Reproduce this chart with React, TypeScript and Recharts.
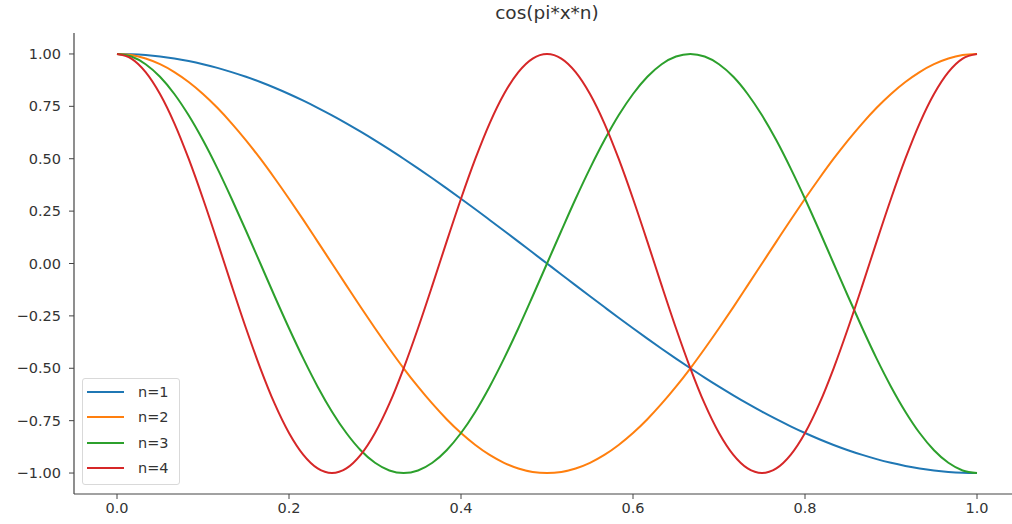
import React from "react";
import { LineChart, Line, XAxis, YAxis } from "recharts";

// Sample positions along x (1/60 steps from 0 to 1)
const xs = [
  0, 0.0167, 0.0333, 0.05, 0.0667, 0.0833, 0.1, 0.1167, 0.1333, 0.15, 0.1667, 0.1833,
  0.2, 0.2167, 0.2333, 0.25, 0.2667, 0.2833, 0.3, 0.3167, 0.3333, 0.35, 0.3667, 0.3833,
  0.4, 0.4167, 0.4333, 0.45, 0.4667, 0.4833, 0.5, 0.5167, 0.5333, 0.55, 0.5667, 0.5833,
  0.6, 0.6167, 0.6333, 0.65, 0.6667, 0.6833, 0.7, 0.7167, 0.7333, 0.75, 0.7667, 0.7833,
  0.8, 0.8167, 0.8333, 0.85, 0.8667, 0.8833, 0.9, 0.9167, 0.9333, 0.95, 0.9667, 0.9833, 1,
];

const n1 = [
  1.0, 0.9986, 0.9945, 0.9877, 0.9781, 0.9659, 0.9511, 0.9336, 0.9135, 0.891, 0.866, 0.8387,
  0.809, 0.7771, 0.7431, 0.7071, 0.6691, 0.6293, 0.5878, 0.5446, 0.5, 0.454, 0.4067, 0.3584,
  0.309, 0.2588, 0.2079, 0.1564, 0.1045, 0.0523, 0.0, -0.0523, -0.1045, -0.1564, -0.2079, -0.2588,
  -0.309, -0.3584, -0.4067, -0.454, -0.5, -0.5446, -0.5878, -0.6293, -0.6691, -0.7071, -0.7431, -0.7771,
  -0.809, -0.8387, -0.866, -0.891, -0.9135, -0.9336, -0.9511, -0.9659, -0.9781, -0.9877, -0.9945, -0.9986, -1.0,
];

const n2 = [
  1.0, 0.9945, 0.9781, 0.9511, 0.9135, 0.866, 0.809, 0.7431, 0.6691, 0.5878, 0.5, 0.4067,
  0.309, 0.2079, 0.1045, 0.0, -0.1045, -0.2079, -0.309, -0.4067, -0.5, -0.5878, -0.6691, -0.7431,
  -0.809, -0.866, -0.9135, -0.9511, -0.9781, -0.9945, -1.0, -0.9945, -0.9781, -0.9511, -0.9135, -0.866,
  -0.809, -0.7431, -0.6691, -0.5878, -0.5, -0.4067, -0.309, -0.2079, -0.1045, 0.0, 0.1045, 0.2079,
  0.309, 0.4067, 0.5, 0.5878, 0.6691, 0.7431, 0.809, 0.866, 0.9135, 0.9511, 0.9781, 0.9945, 1.0,
];

const n3 = [
  1.0, 0.9877, 0.9511, 0.891, 0.809, 0.7071, 0.5878, 0.454, 0.309, 0.1564, 0.0, -0.1564,
  -0.309, -0.454, -0.5878, -0.7071, -0.809, -0.891, -0.9511, -0.9877, -1.0, -0.9877, -0.9511, -0.891,
  -0.809, -0.7071, -0.5878, -0.454, -0.309, -0.1564, 0.0, 0.1564, 0.309, 0.454, 0.5878, 0.7071,
  0.809, 0.891, 0.9511, 0.9877, 1.0, 0.9877, 0.9511, 0.891, 0.809, 0.7071, 0.5878, 0.454,
  0.309, 0.1564, 0.0, -0.1564, -0.309, -0.454, -0.5878, -0.7071, -0.809, -0.891, -0.9511, -0.9877, -1.0,
];

const n4 = [
  1.0, 0.9781, 0.9135, 0.809, 0.6691, 0.5, 0.309, 0.1045, -0.1045, -0.309, -0.5, -0.6691,
  -0.809, -0.9135, -0.9781, -1.0, -0.9781, -0.9135, -0.809, -0.6691, -0.5, -0.309, -0.1045, 0.1045,
  0.309, 0.5, 0.6691, 0.809, 0.9135, 0.9781, 1.0, 0.9781, 0.9135, 0.809, 0.6691, 0.5,
  0.309, 0.1045, -0.1045, -0.309, -0.5, -0.6691, -0.809, -0.9135, -0.9781, -1.0, -0.9781, -0.9135,
  -0.809, -0.6691, -0.5, -0.309, -0.1045, 0.1045, 0.309, 0.5, 0.6691, 0.809, 0.9135, 0.9781, 1.0,
];

const xTicks = [0, 0.2, 0.4, 0.6, 0.8, 1.0];
const yTicks = [1.0, 0.75, 0.5, 0.25, 0, -0.25, -0.5, -0.75, -1.0];

const seriesNames = ["n=1", "n=2", "n=3", "n=4"];
const seriesKeys = ["n1", "n2", "n3", "n4"];
const colors = ["#1f77b4", "#ff7f0e", "#2ca02c", "#d62728"];

const data = xs.map((x, i) => ({ x, n1: n1[i], n2: n2[i], n3: n3[i], n4: n4[i] }));

const FONT = "'DejaVu Sans', sans-serif";
const AXIS = "#444";
const TEXT = "#333";

const fmtY = (v: number) => (v < 0 ? "\u2212" + Math.abs(v).toFixed(2) : v.toFixed(2));
const fmtX = (v: number) => v.toFixed(1);

const LegendBox = () => (
  <div
    style={{
      position: "absolute",
      left: 82,
      top: 378,
      width: 98,
      height: 107,
      border: "1px solid #d9d9d9",
      borderRadius: 3,
      background: "rgba(255,255,255,0.85)",
      boxSizing: "border-box",
      fontFamily: FONT,
      fontSize: 14.5,
      color: TEXT,
    }}
  >
    {seriesNames.map((name, i) => (
      <div key={name} style={{ display: "flex", alignItems: "center", height: 25.5 }}>
        <div style={{ marginLeft: 4, width: 37, height: 2, background: colors[i] }} />
        <span style={{ marginLeft: 14 }}>{name}</span>
      </div>
    ))}
  </div>
);

export default function App() {
  return (
    <div
      style={{
        position: "absolute",
        left: 0,
        top: 0,
        width: 1012,
        height: 524,
        overflow: "hidden",
        background: "#fff",
      }}
    >
      <div
        style={{
          position: "absolute",
          left: 74,
          width: 946,
          top: 2,
          textAlign: "center",
          fontFamily: FONT,
          fontSize: 18.5,
          color: TEXT,
        }}
      >
        cos(pi*x*n)
      </div>
      <LineChart
        width={1040}
        height={524}
        data={data}
        margin={{ top: 33, right: 20, left: 0, bottom: 0 }}
        style={{ position: "absolute", left: 0, top: 0 }}
      >
        <XAxis
          dataKey="x"
          type="number"
          domain={[-0.05, 1.05]}
          ticks={xTicks}
          tickFormatter={fmtX}
          height={30}
          tickSize={5}
          tickMargin={4}
          axisLine={{ stroke: AXIS, strokeWidth: 1.2 }}
          tickLine={{ stroke: AXIS }}
          tick={{ fill: TEXT, fontSize: 14.5, fontFamily: FONT }}
          allowDataOverflow
        />
        <XAxis
          xAxisId="top"
          dataKey="x"
          type="number"
          orientation="top"
          domain={[-0.05, 1.05]}
          height={0}
          tick={false}
          tickLine={false}
          axisLine={{ stroke: AXIS, strokeWidth: 1.2 }}
        />
        <YAxis
          type="number"
          domain={[-1.1, 1.1]}
          ticks={yTicks}
          tickFormatter={fmtY}
          width={74}
          tickSize={5}
          tickMargin={8}
          axisLine={{ stroke: AXIS, strokeWidth: 1.2 }}
          tickLine={{ stroke: AXIS }}
          tick={{ fill: TEXT, fontSize: 14.5, fontFamily: FONT }}
          allowDataOverflow
        />
        {seriesKeys.map((k, i) => (
          <Line
            key={k}
            dataKey={k}
            name={seriesNames[i]}
            type="monotone"
            stroke={colors[i]}
            strokeWidth={2}
            dot={false}
            isAnimationActive={false}
          />
        ))}
      </LineChart>
      <LegendBox />
    </div>
  );
}
